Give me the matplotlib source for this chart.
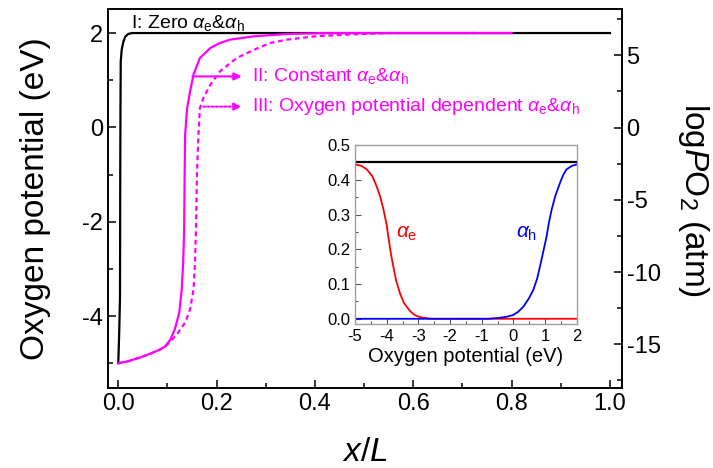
import matplotlib
matplotlib.use("Agg")
import matplotlib.pyplot as plt
from matplotlib.ticker import MultipleLocator

plt.rcParams["font.family"] = ["Liberation Sans", "DejaVu Sans"]
plt.rcParams["mathtext.fontset"] = "custom"
plt.rcParams["mathtext.rm"] = "Liberation Sans"
plt.rcParams["mathtext.it"] = "Liberation Sans:italic"
plt.rcParams["mathtext.bf"] = "Liberation Sans:bold"

# Curva I: alfa cero
x_cero = [0.0, 0.002, 0.0035, 0.004, 0.0045, 0.005, 0.007, 0.010, 0.014, 0.020, 0.028, 1.0]
y_cero = [-5.0, -4.3, -3.6, -1.0, 0.5, 1.4, 1.65, 1.8, 1.92, 1.98, 2.0, 2.0]

# Curva II: alfa constante
x_const = [0.0, 0.02, 0.044, 0.065, 0.085, 0.096, 0.106, 0.115, 0.124, 0.129, 0.132, 0.134,
           0.135, 0.136, 0.140, 0.146, 0.153, 0.166, 0.187, 0.205, 0.227, 0.275,
           0.343, 0.42, 0.8]
y_const = [-5.0, -4.96, -4.88, -4.8, -4.71, -4.64, -4.5, -4.28, -3.93, -3.44, -2.87, -2.17,
           -1.0, -0.15, 0.4, 0.76, 1.12, 1.47, 1.68, 1.78, 1.86, 1.93,
           1.98, 2.0, 2.0]

# Curva III: alfa dependiente del potencial de oxigeno
x_dep = [0.0, 0.02, 0.044, 0.065, 0.085, 0.096, 0.106, 0.119, 0.136, 0.146, 0.153, 0.156,
         0.158, 0.160, 0.163, 0.166, 0.173, 0.187, 0.207, 0.241, 0.275, 0.309,
         0.343, 0.40, 0.47, 0.55, 0.8]
y_dep = [-5.0, -4.96, -4.88, -4.8, -4.71, -4.64, -4.54, -4.39, -4.14, -3.86, -3.44, -2.87,
         -2.17, -1.0, -0.15, 0.41, 0.62, 0.90, 1.19, 1.47, 1.64, 1.79,
         1.86, 1.93, 1.97, 2.0, 2.0]

logpo2_lim = [-18.0, 8.2]

# Inserto: alfa_e y alfa_h contra potencial de oxigeno
phi_cero = [-5.0, 2.0]
alfa_cero = [0.45, 0.45]

phi_e = [-5.0, -4.8, -4.63, -4.45, -4.32, -4.2, -4.1, -4.0, -3.95, -3.87, -3.79, -3.7,
         -3.58, -3.45, -3.26, -3.1, -2.95, -2.7, -2.5, 2.0]
alfa_e = [0.444, 0.44, 0.43, 0.41, 0.382, 0.35, 0.314, 0.27, 0.237, 0.19, 0.150, 0.11,
          0.073, 0.045, 0.022, 0.01, 0.005, 0.001, 0.0, 0.0]

phi_h = [-5.0, -0.8, -0.5, -0.2, 0.0, 0.15, 0.32, 0.5, 0.63, 0.75, 0.84, 0.95, 1.05,
         1.12, 1.21, 1.33, 1.47, 1.58, 1.68, 1.85, 2.0]
alfa_h = [0.0, 0.0, 0.002, 0.006, 0.011, 0.02, 0.035, 0.06, 0.083, 0.115, 0.15, 0.195, 0.237,
          0.275, 0.314, 0.355, 0.39, 0.415, 0.43, 0.44, 0.444]

magenta = "#FF00FF"

fig = plt.figure(figsize=(7.13, 4.68), dpi=100)
ax = fig.add_axes([0.151, 0.1716, 0.721, 0.8092])

ax.plot(x_cero, y_cero, color="black", lw=1.6)
ax.plot(x_const, y_const, color=magenta, lw=1.6)
ax.plot(x_dep, y_dep, color=magenta, lw=1.6, ls=(0, (2.2, 1.6)))

ax.set_xlim(-0.0216, 1.024)
ax.set_ylim(-5.52, 2.51)
ax.xaxis.set_major_locator(MultipleLocator(0.2))
ax.xaxis.set_minor_locator(MultipleLocator(0.1))
ax.yaxis.set_major_locator(MultipleLocator(2))
ax.yaxis.set_minor_locator(MultipleLocator(1))
ax.tick_params(which="both", direction="in", labelsize=17, width=1.1, top=False, right=False)
ax.tick_params(which="major", length=6)
ax.tick_params(which="minor", length=3.5)
ax.xaxis.set_major_formatter(plt.FuncFormatter(lambda v, p: f"{v:.1f}"))
ax.yaxis.set_major_formatter(plt.FuncFormatter(lambda v, p: f"{v:.0f}"))
for s in ax.spines.values():
    s.set_linewidth(1.2)

ax2 = ax.twinx()
ax2.set_ylim(*logpo2_lim)
ax2.yaxis.set_major_locator(MultipleLocator(5))
ax2.yaxis.set_minor_locator(MultipleLocator(2.5))
ax2.tick_params(which="both", direction="in", labelsize=17, width=1.1)
ax2.tick_params(which="major", length=6)
ax2.tick_params(which="minor", length=3.5)
ax2.yaxis.set_major_formatter(plt.FuncFormatter(lambda v, p: f"{v:.0f}"))
for s in ax2.spines.values():
    s.set_linewidth(1.2)

# Etiquetas de ejes
fig.text(0.050, 0.576, "Oxygen potential (eV)", rotation=90, ha="center", va="center", fontsize=24)
fig.text(0.972, 0.572, r"log$\mathit{P}$O$_2$ (atm)", rotation=270, ha="center", va="center", fontsize=24)
fig.text(0.512, 0.034, r"$x$/$L$", ha="center", va="center", fontsize=24)

# Anotaciones
ax.text(0.026, 2.10, r"I: Zero $\alpha_\mathrm{e}$&$\alpha_\mathrm{h}$", fontsize=14,
        color="black", ha="left", va="baseline")
ax.text(0.271, 1.09, r"II: Constant $\alpha_\mathrm{e}$&$\alpha_\mathrm{h}$", fontsize=14,
        color=magenta, ha="left", va="center")
ax.text(0.271, 0.44, r"III: Oxygen potential dependent $\alpha_\mathrm{e}$&$\alpha_\mathrm{h}$",
        fontsize=14, color=magenta, ha="left", va="center")
ax.annotate("", xy=(0.251, 1.08), xytext=(0.151, 1.08),
            arrowprops=dict(arrowstyle="-|>", color=magenta, lw=1.5, mutation_scale=11,
                            shrinkA=0, shrinkB=0))
ax.annotate("", xy=(0.251, 0.44), xytext=(0.173, 0.44),
            arrowprops=dict(arrowstyle="-|>", color=magenta, lw=1.5, ls=(0, (1, 1)),
                            mutation_scale=11, shrinkA=0, shrinkB=0))

# Inserto
axi = fig.add_axes([0.4979, 0.3077, 0.3109, 0.3825])
axi.plot(phi_cero, alfa_cero, color="black", lw=1.6)
axi.plot(phi_e, alfa_e, color="red", lw=1.3)
axi.plot(phi_h, alfa_h, color="blue", lw=1.3)
axi.set_xlim(-5, 2)
axi.set_ylim(-0.015, 0.5)
axi.xaxis.set_major_locator(MultipleLocator(1))
axi.xaxis.set_minor_locator(MultipleLocator(0.5))
axi.yaxis.set_major_locator(MultipleLocator(0.1))
axi.yaxis.set_minor_locator(MultipleLocator(0.05))
axi.tick_params(which="both", direction="in", labelsize=12, color="#555555", width=0.8)
axi.tick_params(which="major", length=4)
axi.tick_params(which="minor", length=2)
axi.xaxis.set_major_formatter(plt.FuncFormatter(lambda v, p: f"{v:.0f}"))
axi.yaxis.set_major_formatter(plt.FuncFormatter(lambda v, p: f"{v:.1f}"))
for s in axi.spines.values():
    s.set_color("#A0A0A0")
    s.set_linewidth(1.0)
axi.set_xlabel("Oxygen potential (eV)", fontsize=14.5, labelpad=2)
axi.text(-3.72, 0.232, r"$\alpha_\mathrm{e}$", color="red", fontsize=15, ha="left", va="baseline")
axi.text(0.08, 0.232, r"$\alpha_\mathrm{h}$", color="blue", fontsize=15, ha="left", va="baseline")

plt.savefig("out.png", dpi=100)
